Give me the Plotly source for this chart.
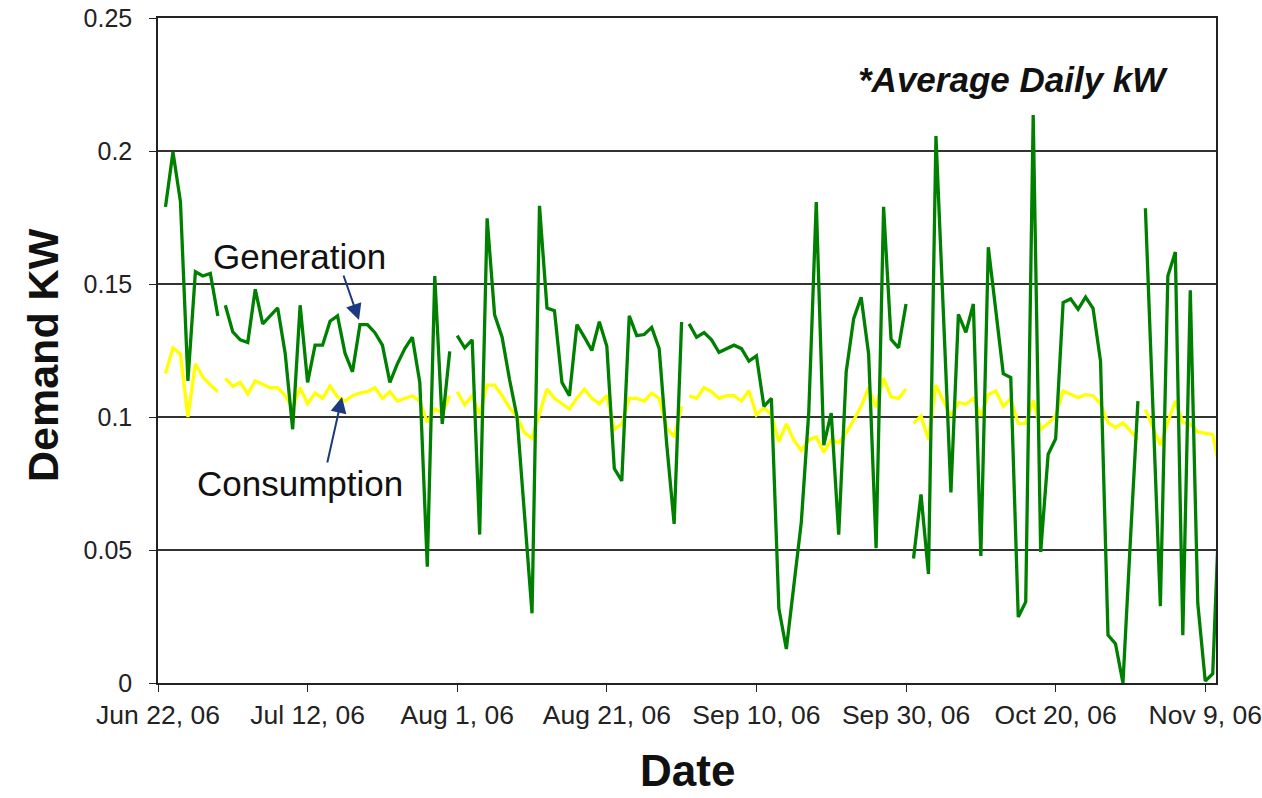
import pandas as pd
import plotly.graph_objects as go

# ---- data (average daily kW), one list per month ----
month_starts = ["2006-06-23", "2006-07-01", "2006-08-01", "2006-09-01", "2006-10-01", "2006-11-01"]

gen_jun = [0.179, 0.1996, 0.181, 0.1136, 0.1546, 0.153, 0.154, 0.138]
gen_jul = [0.142, 0.132, 0.129, 0.128, 0.148, 0.135, 0.138, 0.141, 0.124, 0.0954,
           0.142, 0.113, 0.127, 0.127, 0.136, 0.138, 0.124, 0.117, 0.1347, 0.1347,
           0.1317, 0.127, 0.113, 0.120, 0.1257, 0.130, 0.113, 0.0437, 0.153, 0.0974, 0.1247]
gen_aug = [0.1306, 0.126, 0.129, 0.0558, 0.1747, 0.1384, 0.130, 0.114, 0.100, 0.063,
           0.0262, 0.1794, 0.141, 0.140, 0.113, 0.108, 0.1347, 0.130, 0.125, 0.1358,
           0.1266, 0.0806, 0.076, 0.138, 0.1306, 0.131, 0.1337, 0.1257, 0.090, 0.0598, 0.1357]
gen_sep = [0.135, 0.130, 0.1317, 0.129, 0.1243, 0.1257, 0.127, 0.1257, 0.121, 0.123,
           0.104, 0.107, 0.028, 0.0128, 0.036, 0.0605, 0.102, 0.1808, 0.0894, 0.1015,
           0.0558, 0.117, 0.137, 0.145, 0.1237, 0.0507, 0.179, 0.1292, 0.126, 0.1425]
gen_oct = [0.0468, 0.0709, 0.041, 0.2056, 0.1386, 0.0716, 0.1386, 0.1318, 0.1425, 0.0478,
           0.1638, 0.140, 0.1163, 0.1148, 0.0248, 0.0305, 0.2135, 0.0493, 0.086, 0.0918,
           0.143, 0.1444, 0.1405, 0.1451, 0.1408, 0.121, 0.018, 0.0148, 0.0, 0.054, 0.106]
gen_nov = [0.1785, 0.102, 0.0289, 0.153, 0.162, 0.018, 0.1476, 0.030, 0.0007, 0.0035, 0.075]

con_jun = [0.1163, 0.126, 0.1237, 0.100, 0.120, 0.115, 0.112, 0.1095]
con_jul = [0.1145, 0.1116, 0.113, 0.1086, 0.1136, 0.1122, 0.111, 0.111, 0.108, 0.1035,
           0.111, 0.105, 0.109, 0.107, 0.1116, 0.1075, 0.106, 0.108, 0.109, 0.1095,
           0.111, 0.107, 0.1095, 0.106, 0.107, 0.108, 0.106, 0.098, 0.103, 0.1015, 0.108]
con_aug = [0.1095, 0.1046, 0.108, 0.101, 0.112, 0.112, 0.108, 0.1035, 0.100, 0.094,
           0.092, 0.1015, 0.1105, 0.107, 0.105, 0.103, 0.107, 0.1105, 0.107, 0.105,
           0.108, 0.0954, 0.0974, 0.107, 0.107, 0.106, 0.109, 0.107, 0.096, 0.0925, 0.104]
con_sep = [0.108, 0.107, 0.111, 0.1095, 0.107, 0.108, 0.108, 0.106, 0.110, 0.1008,
           0.1035, 0.1008, 0.0907, 0.0974, 0.0914, 0.0874, 0.0914, 0.0925, 0.0867, 0.0914,
           0.0903, 0.094, 0.0988, 0.104, 0.111, 0.1036, 0.1146, 0.1076, 0.107, 0.1105]
con_oct = [0.0976, 0.1004, 0.0915, 0.112, 0.106, 0.1004, 0.1055, 0.1048, 0.107, 0.1004,
           0.1084, 0.1098, 0.104, 0.107, 0.0976, 0.0976, 0.1062, 0.0954, 0.0976, 0.1004,
           0.1098, 0.1084, 0.1073, 0.1084, 0.108, 0.105, 0.098, 0.096, 0.0978, 0.0948, 0.0914]
con_nov = [0.1028, 0.096, 0.0894, 0.098, 0.106, 0.098, 0.0974, 0.0944, 0.094, 0.0934, 0.080]

tick_dates = ["2006-06-22", "2006-07-12", "2006-08-01", "2006-08-21",
              "2006-09-10", "2006-09-30", "2006-10-20", "2006-11-09"]
tick_labels = ["Jun 22, 06", "Jul 12, 06", "Aug 1, 06", "Aug 21, 06",
               "Sep 10, 06", "Sep 30, 06", "Oct 20, 06", "Nov 9, 06"]

gen_months = [gen_jun, gen_jul, gen_aug, gen_sep, gen_oct, gen_nov]
con_months = [con_jun, con_jul, con_aug, con_sep, con_oct, con_nov]

GREEN = "#008000"
YELLOW = "#FFFF00"
NAVY = "#1C3A80"
FONT = "Liberation Sans, Arial, sans-serif"

fig = go.Figure()
for start, vals in zip(month_starts, con_months):
    fig.add_trace(go.Scatter(x=pd.date_range(start, periods=len(vals), freq="D"), y=vals,
                             mode="lines", line=dict(color=YELLOW, width=3.3),
                             name="Consumption", showlegend=False))
for start, vals in zip(month_starts, gen_months):
    fig.add_trace(go.Scatter(x=pd.date_range(start, periods=len(vals), freq="D"), y=vals,
                             mode="lines", line=dict(color=GREEN, width=3.3),
                             name="Generation", showlegend=False))

W, H = 1262, 798
PL, PR, PT, PB = 158, 1216, 18, 683          # plot area in page pixels
L, R, T, B = PL, W - PR, PT, H - PB
pw, ph = W - L - R, H - T - B


def px(xp):
    return (xp - PL) / pw


def py(yp):
    return (PB - yp) / ph


fig.update_layout(
    width=W, height=H,
    margin=dict(l=L, r=R, t=T, b=B, pad=0, autoexpand=False),
    paper_bgcolor="white", plot_bgcolor="white",
    font=dict(family=FONT, color="#222222"),
    xaxis=dict(
        type="date",
        range=["2006-06-22", "2006-11-10 10:30"],
        tickvals=tick_dates, ticktext=tick_labels,
        ticks="outside", ticklen=7, tickcolor="#222", tickwidth=1,
        tickfont=dict(size=26.5, family=FONT, color="#222"),
        ticklabeloverflow="allow", automargin=False,
        showgrid=False, zeroline=False,
        showline=True, linecolor="#222", linewidth=1.5, mirror=True,
    ),
    yaxis=dict(
        range=[0, 0.25], dtick=0.05, tick0=0,
        ticks="outside", ticklen=7, tickcolor="#222", tickwidth=1,
        tickfont=dict(size=25, family=FONT, color="#222"),
        ticklabelstandoff=12, ticklabeloverflow="allow", automargin=False,
        showgrid=True, gridcolor="#333333", gridwidth=1.5,
        zeroline=False,
        showline=True, linecolor="#222", linewidth=1.5, mirror=True,
    ),
)

annotations = [
    dict(text="<b>Demand KW</b>", x=px(43), y=py(355), textangle=-90,
         font=dict(size=43, family=FONT, color="#111")),
    dict(text="<b>Date</b>", x=px(687), y=py(770),
         font=dict(size=44, family=FONT, color="#111")),
    dict(text="<b><i>*Average Daily kW</i></b>", x=px(1013), y=py(80),
         font=dict(size=35, family=FONT, color="#111")),
    dict(text="Generation", x=px(299), y=py(256),
         font=dict(size=35, family=FONT, color="#111")),
    dict(text="Consumption", x=px(300), y=py(483),
         font=dict(size=35, family=FONT, color="#111")),
]
for a in annotations:
    a.update(xref="paper", yref="paper", showarrow=False, xanchor="center", yanchor="middle")
    fig.add_annotation(**a)

# arrows (head position in page pixels, tail offset in pixels)
for hx, hy, ax, ay in [(359, 320, -16, -46), (342, 397, -15, 67)]:
    fig.add_annotation(x=px(hx), y=py(hy), xref="paper", yref="paper", text="",
                       showarrow=True, ax=ax, ay=ay, arrowhead=2, arrowsize=1.6,
                       arrowwidth=2, arrowcolor=NAVY, standoff=0)

# remove the browser's default 8px body margin so the 1262x798 figure fills the window
fig.write_html("out.html",
               config={"displayModeBar": False},
               post_script="document.body.style.margin='0px';document.body.style.overflow='hidden';")
